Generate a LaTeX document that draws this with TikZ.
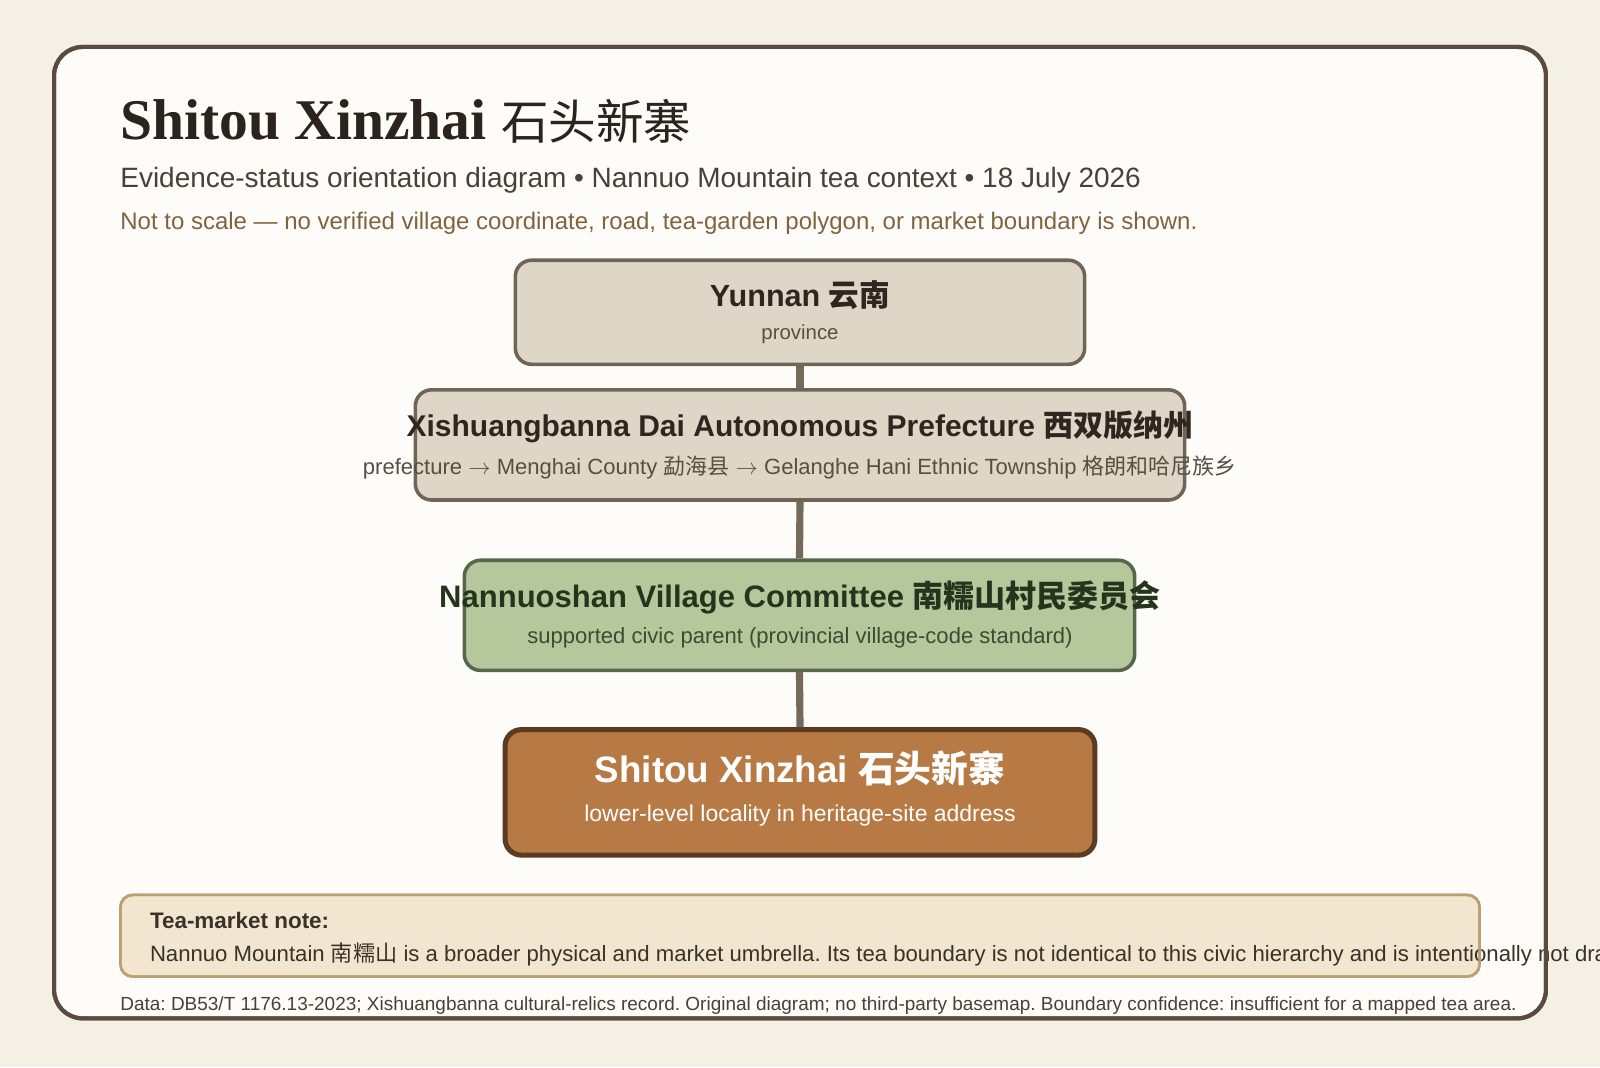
\documentclass[tikz,border=0pt]{standalone}
\usepackage{fontspec}
\setmainfont{Liberation Sans}
\newfontfamily\titleserif{Liberation Serif}
\newfontfamily\cjk{Noto Sans CJK SC}
\newcommand{\zh}[1]{{\cjk #1}}
\newcommand{\setfs}[1]{\fontsize{#1pt}{#1pt}\selectfont}
\newcommand{\tor}{\ensuremath{\rightarrow}}
\frenchspacing
\definecolor{bgc}{HTML}{F4F0E6}
\definecolor{panelfill}{HTML}{FEFCF8}
\definecolor{framec}{HTML}{5A4B3D}
\definecolor{titlec}{HTML}{2B231C}
\definecolor{subc}{HTML}{4B4036}
\definecolor{warnc}{HTML}{80633F}
\definecolor{grayfill}{HTML}{DED7C7}
\definecolor{grayborder}{HTML}{6F6456}
\definecolor{graytext}{HTML}{2E2720}
\definecolor{graysub}{HTML}{5A4E42}
\definecolor{greenfill}{HTML}{B5C79B}
\definecolor{greenborder}{HTML}{55684A}
\definecolor{greentext}{HTML}{26331D}
\definecolor{greensub}{HTML}{3C4B31}
\definecolor{orfill}{HTML}{B87A45}
\definecolor{orborder}{HTML}{5C3B22}
\definecolor{notefill}{HTML}{F2E6D0}
\definecolor{noteborder}{HTML}{BC9E72}
\definecolor{notetext}{HTML}{3A3129}
\definecolor{connc}{HTML}{75695A}
\begin{document}
\begin{tikzpicture}[x=0.5pt,y=-0.5pt,
  panel/.style={fill=panelfill, draw=framec, line width=2pt, rounded corners=14pt, inner sep=0pt, outer sep=0pt},
  graybox/.style={fill=grayfill, draw=grayborder, line width=1.75pt, rounded corners=8pt, inner sep=0pt},
  greenbox/.style={fill=greenfill, draw=greenborder, line width=1.75pt, rounded corners=8pt, inner sep=0pt},
  orbox/.style={fill=orfill, draw=orborder, line width=2.5pt, rounded corners=8pt, inner sep=0pt},
  notebox/.style={fill=notefill, draw=noteborder, line width=1.25pt, rounded corners=6pt, inner sep=0pt, outer sep=0pt},
  conn/.style={draw=connc, line width=3.5pt},
  txt/.style={inner sep=0pt, outer sep=0pt},
  boxtitle/.style={txt, anchor=base, font=\bfseries\setfs{15}},
  boxsub/.style={txt, anchor=base, font=\setfs{11}},
]
\fill[bgc] (0,0) rectangle (1568,1046);
\useasboundingbox (0,0) rectangle (1568,1046);

% frame
\node[panel, minimum width=731pt, minimum height=476pt] (frame) at (784,522) {};

% header
\node[txt, anchor=base west, text=titlec] (title) at (118,137)
  {{\titleserif\bfseries\setfs{28.2}Shitou Xinzhai }{\cjk\setfs{23.3}石头新寨}};
\node[txt, anchor=base west, text=subc, font=\setfs{13.7}] (subtitle) at (118,184)
  {Evidence-status orientation diagram • Nannuo Mountain tea context • 18 July 2026};
\node[txt, anchor=base west, text=warnc, font=\setfs{11.75}] (warn) at (118,225)
  {Not to scale — no verified village coordinate, road, tea-garden polygon, or market boundary is shown.};

% boxes
\node[graybox, minimum width=279pt, minimum height=51pt] (yun) at (784,306) {};
\node[graybox, minimum width=377pt, minimum height=54pt] (pref) at (784,436) {};
\node[greenbox, minimum width=328.5pt, minimum height=54pt] (vill) at (783.5,603) {};
\node[orbox, minimum width=289pt, minimum height=61.5pt] (shitou) at (784,776.5) {};

% connectors
\draw[conn] (yun.south) -- (pref.north);
\draw[conn] (pref.south) -- (vill.north);
\draw[conn] (vill.south) -- (shitou.north);

% box texts
\node[boxtitle, text=graytext] (yunT) at (784,300) {Yunnan \zh{云南}};
\node[boxsub, text=graysub, font=\setfs{10}] (yunS) at (784,333) {province};
\node[boxtitle, text=graytext, font=\bfseries\setfs{14.7}] (prefT) at (784,428) {Xishuangbanna Dai Autonomous Prefecture \zh{西双版纳州}};
\node[boxsub, text=graysub, font=\setfs{10.8}] (prefS) at (784,465) {prefecture \tor{} Menghai County \zh{勐海县} \tor{} Gelanghe Hani Ethnic Township \zh{格朗和哈尼族乡}};
\node[boxtitle, text=greentext, font=\bfseries\setfs{15.2}] (villT) at (784,595) {Nannuoshan Village Committee \zh{南糯山村民委员会}};
\node[boxsub, text=greensub, font=\setfs{10.8}] (villS) at (784,631) {supported civic parent (provincial village-code standard)};
\node[boxtitle, text=white, font=\bfseries\setfs{18}] (shitouT) at (784,767) {Shitou Xinzhai \zh{石头新寨}};
\node[boxsub, text=white, font=\setfs{11.25}] (shitouS) at (784,805) {lower-level locality in heritage-site address};

% note
\node[notebox, minimum width=666pt, minimum height=40pt] (note) at (784,917) {};
\node[txt, anchor=base west, text=notetext, font=\bfseries\setfs{11}] (noteH) at (147,910) {Tea-market note:};
\node[txt, anchor=base west, text=notetext, font=\setfs{10.85}] (noteB) at (147,942)
  {Nannuo Mountain \zh{南糯山} is a broader physical and market umbrella. Its tea boundary is not identical to this civic hierarchy and is intentionally not drawn.};
\draw[draw=noteborder, line width=1.25pt, rounded corners=6pt] (note.north west) rectangle (note.south east);

% footer
\node[txt, anchor=base west, text=subc, font=\setfs{9.3}] (footer) at (118,990)
  {Data: DB53/T 1176.13-2023; Xishuangbanna cultural-relics record. Original diagram; no third-party basemap. Boundary confidence: insufficient for a mapped tea area.};

% frame outline on top
\draw[draw=framec, line width=2pt, rounded corners=14pt] (frame.north west) rectangle (frame.south east);
\end{tikzpicture}
\end{document}
